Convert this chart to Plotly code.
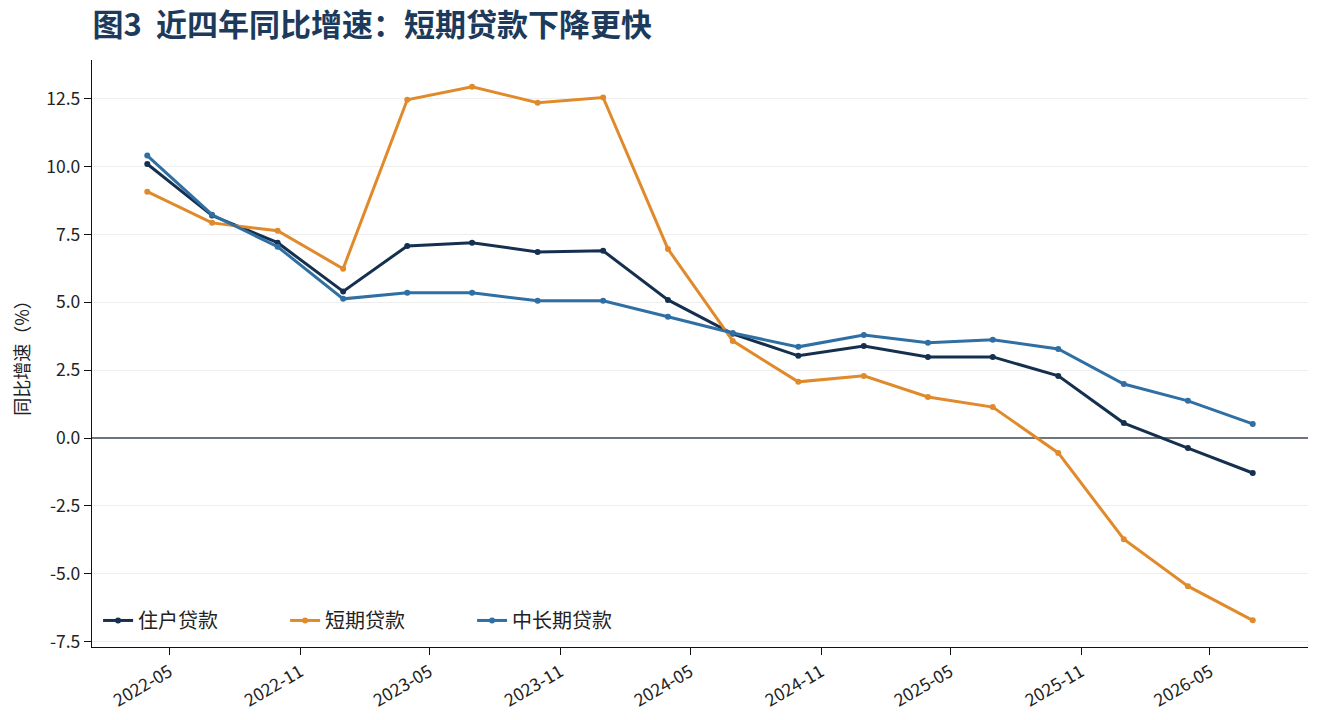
import plotly.graph_objects as go
import pandas as pd

dates = ["2022-03-31", "2022-06-30", "2022-09-30", "2022-12-31",
         "2023-03-31", "2023-06-30", "2023-09-30", "2023-12-31",
         "2024-03-31", "2024-06-30", "2024-09-30", "2024-12-31",
         "2025-03-31", "2025-06-30", "2025-09-30", "2025-12-31",
         "2026-03-31", "2026-06-30"]

household = [10.1, 8.2, 7.2, 5.4, 7.08, 7.2, 6.86, 6.9, 5.09, 3.84,
             3.03, 3.39, 2.99, 2.99, 2.29, 0.55, -0.37, -1.29]
short_term = [9.08, 7.93, 7.64, 6.24, 12.47, 12.95, 12.36, 12.55, 6.97, 3.58,
              2.07, 2.29, 1.51, 1.14, -0.55, -3.73, -5.46, -6.72]
mid_long = [10.41, 8.23, 7.05, 5.13, 5.35, 5.35, 5.06, 5.06, 4.47, 3.87,
            3.36, 3.80, 3.51, 3.62, 3.28, 1.99, 1.37, 0.52]

series_names = ["住户贷款", "短期贷款", "中长期贷款"]
series_colors = ["#15304f", "#e08a2c", "#2f6fa3"]

x_tickvals = ["2022-05-01", "2022-11-01", "2023-05-01", "2023-11-01", "2024-05-01",
              "2024-11-01", "2025-05-01", "2025-11-01", "2026-05-01"]
x_ticktext = ["2022-05", "2022-11", "2023-05", "2023-11", "2024-05",
              "2024-11", "2025-05", "2025-11", "2026-05"]
y_tickvals = [-7.5, -5.0, -2.5, 0.0, 2.5, 5.0, 7.5, 10.0, 12.5]
y_ticktext = ["-7.5", "-5.0", "-2.5", "0.0", "2.5", "5.0", "7.5", "10.0", "12.5"]

font_family = "Noto Sans CJK SC, Noto Sans, sans-serif"

fig = go.Figure()
for name, vals, color in zip(series_names, [household, short_term, mid_long], series_colors):
    fig.add_trace(go.Scatter(
        x=dates, y=vals, name=name, mode="lines+markers",
        line=dict(color=color, width=3),
        marker=dict(color=color, size=6),
    ))

d0 = pd.Timestamp(dates[0])
d1 = pd.Timestamp(dates[-1])
pad = (d1 - d0) * 0.05
ymin, ymax = min(short_term), max(short_term)
ypad = (ymax - ymin) * 0.05

fig.update_layout(
    width=1323, height=720,
    paper_bgcolor="white", plot_bgcolor="white",
    margin=dict(l=92, r=15, t=60, b=73),
    font=dict(family=font_family, size=16, color="#222222"),
    title=dict(text="<b>图3  近四年同比增速：短期贷款下降更快</b>",
               x=0.07, xanchor="left", y=0.965, yanchor="middle",
               font=dict(size=31, color="#1c3a5c", family=font_family)),
    legend=dict(orientation="h", x=0.005, y=0.012, xanchor="left", yanchor="bottom",
                bgcolor="rgba(255,255,255,0)", font=dict(size=20, color="#222222"),
                entrywidth=142, entrywidthmode="pixels", tracegroupgap=0),
    showlegend=True,
)

fig.update_xaxes(
    range=[d0 - pad, d1 + pad], automargin=False,
    tickvals=x_tickvals, ticktext=x_ticktext, tickangle=-30,
    showgrid=False, showline=True, linecolor="#111111", linewidth=1.3,
    ticks="outside", ticklen=7, tickcolor="#111111", tickwidth=1.3,
    tickfont=dict(size=17.5, color="#222222"),
    zeroline=False,
)
fig.update_yaxes(
    range=[ymin - ypad, ymax + ypad], automargin=False,
    tickvals=y_tickvals, ticktext=y_ticktext,
    title=dict(text="同比增速（%）", font=dict(size=18, color="#222222"), standoff=12),
    showgrid=True, gridcolor="#eeeeee", gridwidth=1,
    showline=True, linecolor="#111111", linewidth=1.3,
    ticks="outside", ticklen=7, tickcolor="#111111", tickwidth=1.3,
    tickfont=dict(size=17.5, color="#222222"),
    zeroline=True, zerolinecolor="#6e7580", zerolinewidth=1.5,
)

fig.write_html("out.html")
